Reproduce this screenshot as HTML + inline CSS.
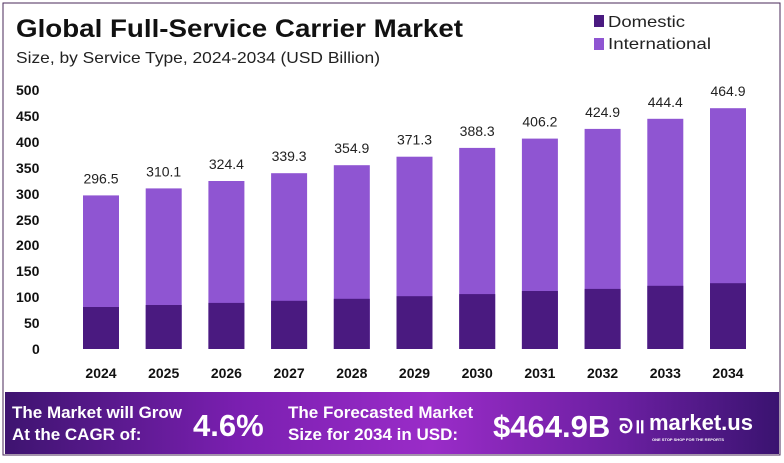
<!DOCTYPE html>
<html><head><style>
body{margin:0;background:#fff;width:784px;height:458px;overflow:hidden;font-family:"Liberation Sans",sans-serif}
</style></head><body>
<svg width="784" height="458" xmlns="http://www.w3.org/2000/svg" font-family="Liberation Sans, sans-serif">
<defs>
<linearGradient id="g" x1="0" x2="1" y1="0" y2="0">
<stop offset="0" stop-color="#3e1470"/><stop offset="0.3" stop-color="#7a1fb0"/><stop offset="0.55" stop-color="#9a2cc8"/><stop offset="0.8" stop-color="#6a1fa0"/><stop offset="1" stop-color="#3a1370"/>
</linearGradient>
</defs>
<rect x="3" y="3" width="777" height="452" fill="none" stroke="#4a2a5a" stroke-width="1"/>
<text x="16" y="37" font-size="25" font-weight="bold" fill="#111" textLength="447" lengthAdjust="spacingAndGlyphs">Global Full-Service Carrier Market</text>
<text x="16" y="63" font-size="16" fill="#222" textLength="364" lengthAdjust="spacingAndGlyphs">Size, by Service Type, 2024-2034 (USD Billion)</text>
<rect x="594" y="15" width="10" height="12" fill="#4a1a80"/>
<text x="608" y="27" font-size="16" fill="#222" textLength="77" lengthAdjust="spacingAndGlyphs">Domestic</text>
<rect x="594" y="38" width="10" height="12" fill="#8f55d2"/>
<text x="608" y="49" font-size="16" fill="#222" textLength="103" lengthAdjust="spacingAndGlyphs">International</text>
<g font-size="14" font-weight="bold" fill="#111">
<text x="16" y="95">500</text><text x="16" y="121">450</text><text x="16" y="147">400</text><text x="16" y="173">350</text><text x="16" y="199">300</text><text x="16" y="225">250</text><text x="16" y="250">200</text><text x="16" y="276">150</text><text x="16" y="302">100</text><text x="24" y="328">50</text><text x="32" y="354">0</text>
</g>
<g fill="#8f55d2">
<rect x="83" y="195.4" width="36" height="153.6"/>
<rect x="145.7" y="188.4" width="36" height="160.6"/>
<rect x="208.4" y="181" width="36" height="168"/>
<rect x="271.1" y="173.2" width="36" height="175.8"/>
<rect x="333.8" y="165.2" width="36" height="183.8"/>
<rect x="396.5" y="156.7" width="36" height="192.3"/>
<rect x="459.2" y="147.9" width="36" height="201.1"/>
<rect x="521.9" y="138.6" width="36" height="210.4"/>
<rect x="584.6" y="128.9" width="36" height="220.1"/>
<rect x="647.3" y="118.8" width="36" height="230.2"/>
<rect x="710" y="108.2" width="36" height="240.8"/>
</g>
<g fill="#4a1a80">
<rect x="83" y="307" width="36" height="42"/>
<rect x="145.7" y="305" width="36" height="44"/>
<rect x="208.4" y="302.9" width="36" height="46.1"/>
<rect x="271.1" y="300.8" width="36" height="48.2"/>
<rect x="333.8" y="298.8" width="36" height="50.2"/>
<rect x="396.5" y="296.2" width="36" height="52.8"/>
<rect x="459.2" y="294.1" width="36" height="54.9"/>
<rect x="521.9" y="291" width="36" height="58"/>
<rect x="584.6" y="288.9" width="36" height="60.1"/>
<rect x="647.3" y="285.8" width="36" height="63.2"/>
<rect x="710" y="283.2" width="36" height="65.8"/>
</g>
<g font-size="14" text-anchor="middle" fill="#222">
<text x="101" y="183.4">296.5</text>
<text x="163.7" y="176.4">310.1</text>
<text x="226.4" y="169">324.4</text>
<text x="289.1" y="161.2">339.3</text>
<text x="351.8" y="153.2">354.9</text>
<text x="414.5" y="144.7">371.3</text>
<text x="477.2" y="135.9">388.3</text>
<text x="539.9" y="126.6">406.2</text>
<text x="602.6" y="116.9">424.9</text>
<text x="665.3" y="106.8">444.4</text>
<text x="728" y="96.2">464.9</text>
</g>
<g font-size="14" font-weight="bold" text-anchor="middle" fill="#111">
<text x="101" y="378">2024</text>
<text x="163.7" y="378">2025</text>
<text x="226.4" y="378">2026</text>
<text x="289.1" y="378">2027</text>
<text x="351.8" y="378">2028</text>
<text x="414.5" y="378">2029</text>
<text x="477.2" y="378">2030</text>
<text x="539.9" y="378">2031</text>
<text x="602.6" y="378">2032</text>
<text x="665.3" y="378">2033</text>
<text x="728" y="378">2034</text>
</g>
<rect x="5" y="392" width="774" height="62" fill="url(#g)"/>
<g fill="#fff" font-weight="bold">
<text x="12" y="418" font-size="17">The Market will Grow</text>
<text x="12" y="440" font-size="17">At the CAGR of:</text>
<text x="193" y="436" font-size="31">4.6%</text>
<text x="288" y="418" font-size="17">The Forecasted Market</text>
<text x="288" y="440" font-size="17">Size for 2034 in USD:</text>
<text x="493" y="437" font-size="31">$464.9B</text>
<text x="649" y="430" font-size="22">market.us</text>
<text x="652" y="441" font-size="4">ONE STOP SHOP FOR THE REPORTS</text>
<text x="619" y="433" font-size="20">ᘐ॥</text>
</g>
</svg>
</body></html>
